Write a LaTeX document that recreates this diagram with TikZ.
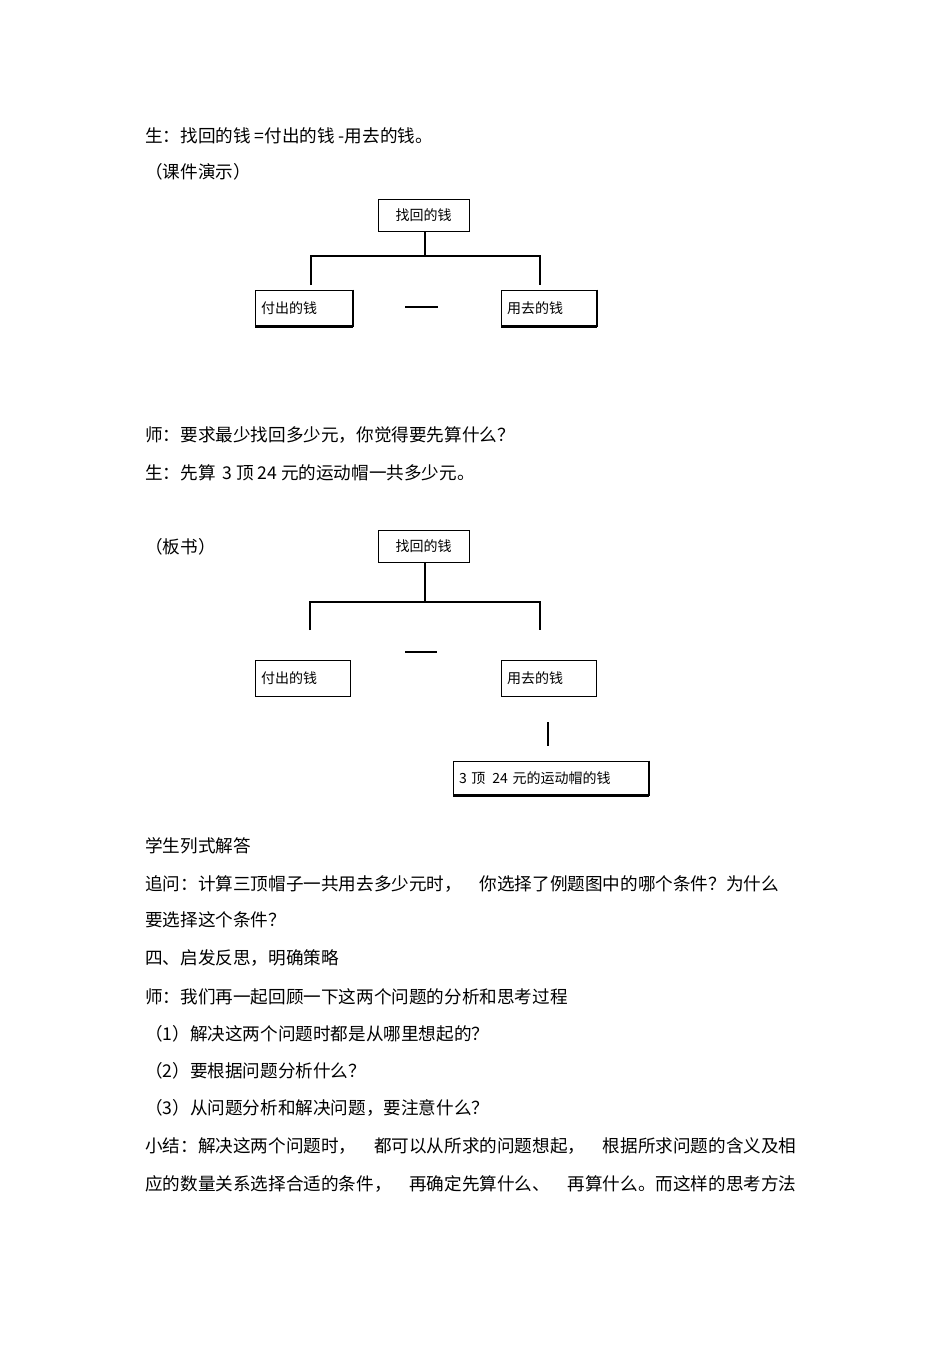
\documentclass[tikz,border=0pt]{standalone}
\usepackage{fontspec}
\setmainfont{Noto Sans CJK SC}
\begin{document}
\begin{tikzpicture}[x=1pt,y=-1pt,
 txt/.style={anchor=west,inner sep=0pt,font=\fontsize{17.6}{17.6}\selectfont},
 bx/.style={draw,line width=0.8pt,inner sep=0pt,font=\fontsize{14}{14}\selectfont},
 ln/.style={line width=1.4pt}]
\useasboundingbox (0,0) rectangle (950,1345);
\foreach \y/\t [count=\i] in {136/{生：找回的钱 =付出的钱 -用去的钱。},172/{（课件演示）},435/{师：要求最少找回多少元，你觉得要先算什么？},473/{生：先算 \,3 顶 24 元的运动帽一共多少元。},547/{（板书）},846/{学生列式解答},884/{追问：计算三顶帽子一共用去多少元时，\quad 你选择了例题图中的哪个条件？为什么},920/{要选择这个条件？},958/{四、启发反思，明确策略},997/{师：我们再一起回顾一下这两个问题的分析和思考过程},1034/{（1）解决这两个问题时都是从哪里想起的？},1071/{（2）要根据问题分析什么？},1108/{（3）从问题分析和解决问题，要注意什么？},1146/{小结：解决这两个问题时，\quad 都可以从所求的问题想起，\quad 根据所求问题的含义及相},1184/{应的数量关系选择合适的条件，\quad 再确定先算什么、\quad 再算什么。而这样的思考方法}}
 \node[txt] (t\i) at (145,\y) {\t};
% diagram 1
\node[bx,minimum width=91pt,minimum height=32pt] (a1) at (423.5,215) {找回的钱};
\node[bx,minimum width=97pt,minimum height=37pt,text width=85pt,align=left] (b1) at (303.5,308.5) {付出的钱};
\node[bx,minimum width=95pt,minimum height=37pt,text width=83pt,align=left] (c1) at (548.5,308.5) {用去的钱};
\draw[line width=2pt] ([xshift=1pt]b1.north east) -- ([xshift=1pt,yshift=1pt]b1.south east) -- ([yshift=1pt]b1.south west);
\draw[line width=2pt] ([xshift=1pt]c1.north east) -- ([xshift=1pt,yshift=1pt]c1.south east) -- ([yshift=1pt]c1.south west);
\coordinate (j1) at (425,256);
\draw[ln] (a1.south -| j1) -- (j1);
\draw[ln] (311,285) -- (311,256) -- (540,256) -- (540,285);
\coordinate (m1a) at (405,307); \coordinate (m1b) at (438,307);
\draw[ln] (m1a) -- (m1b);
% diagram 2
\node[bx,minimum width=91pt,minimum height=32pt] (a2) at (423.5,546) {找回的钱};
\node[bx,minimum width=95pt,minimum height=36pt,text width=83pt,align=left] (b2) at (302.5,678) {付出的钱};
\node[bx,minimum width=95pt,minimum height=36pt,text width=83pt,align=left] (c2) at (548.5,678) {用去的钱};
\node[bx,minimum width=195pt,minimum height=35pt,text width=183pt,align=left] (d2) at (550.5,778.5) {3 顶 \,24 元的运动帽的钱};
\draw[line width=2pt] ([xshift=1pt]d2.north east) -- ([xshift=1pt,yshift=1pt]d2.south east) -- ([yshift=1pt]d2.south west);
\coordinate (j2) at (425,602);
\draw[ln] (a2.south -| j2) -- (j2);
\draw[line width=2pt] (310,630) -- (310,602) -- (540,602) -- (540,630);
\coordinate (m2a) at (405,652); \coordinate (m2b) at (437,652);
\draw[ln] (m2a) -- (m2b);
\coordinate (v1) at (548,722); \coordinate (v2) at (548,746);
\draw[ln] (v1) -- (v2);
\end{tikzpicture}
\end{document}
